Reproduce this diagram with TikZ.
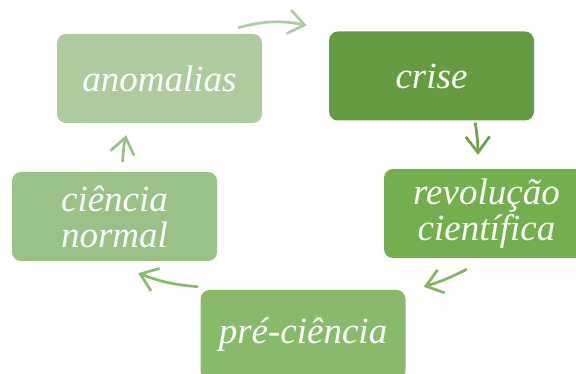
\documentclass[tikz,border=0pt]{standalone}
\usepackage{fontspec}
\setmainfont{Liberation Serif}
\usepackage{xcolor}
\usepackage{tikz}
\usetikzlibrary{arrows.meta}
\definecolor{AnomGreen}{HTML}{AECB9E}
\definecolor{CriseGreen}{HTML}{669C41}
\definecolor{NormalGreen}{HTML}{9AC287}
\definecolor{RevolGreen}{HTML}{74AF4E}
\definecolor{PreGreen}{HTML}{88BA6C}

\begin{document}
\begin{tikzpicture}[x=1pt, y=1pt,
                    every node/.style={rounded corners=9pt, align=center, inner sep=0pt,
                                       minimum width=205pt, minimum height=89pt, text=white,
                                       font=\fontsize{37}{36}\selectfont\itshape},
                    cyc/.style={line width=2.7pt, -{Straight Barb[length=16pt,width=24pt]}}]
\useasboundingbox (0,0) rectangle (576,374);
\clip (0,0) rectangle (576,374);
\node[fill=AnomGreen] (anom) at (159.5,295.5) {anomalias};
\node[fill=CriseGreen] (crise) at (431.5,298) {crise};
\node[fill=RevolGreen] (revol) at (486.5,160.5) {revolução\\ científica};
\node[fill=PreGreen] (pre) at (303,39.5) {pré-ciência};
\node[fill=NormalGreen] (normal) at (114.5,157.5) {ciência\\ normal};
\draw[cyc, AnomGreen] ([shift={(-24,6)}]anom.north east) to[bend left=13] ([shift={(-22,6)}]crise.north west);
\draw[cyc, CriseGreen!95!white] ([shift={(-59,-2)}]crise.south east) to[bend left=4] ([shift={(-8.5,14)}]revol.north);
\draw[cyc, RevolGreen!90!white] ([shift={(83,-11)}]revol.south west) to[bend left=5] ([shift={(18,3)}]pre.north east);
\draw[cyc, PreGreen] ([shift={(-2,3)}]pre.north west) to[bend left=8] ([shift={(-79,-12)}]normal.south east);
\draw[cyc, NormalGreen] ([shift={(8,10)}]normal.north) to[bend left=4] ([shift={(-33.5,-12)}]anom.south);
\end{tikzpicture}
\end{document}
